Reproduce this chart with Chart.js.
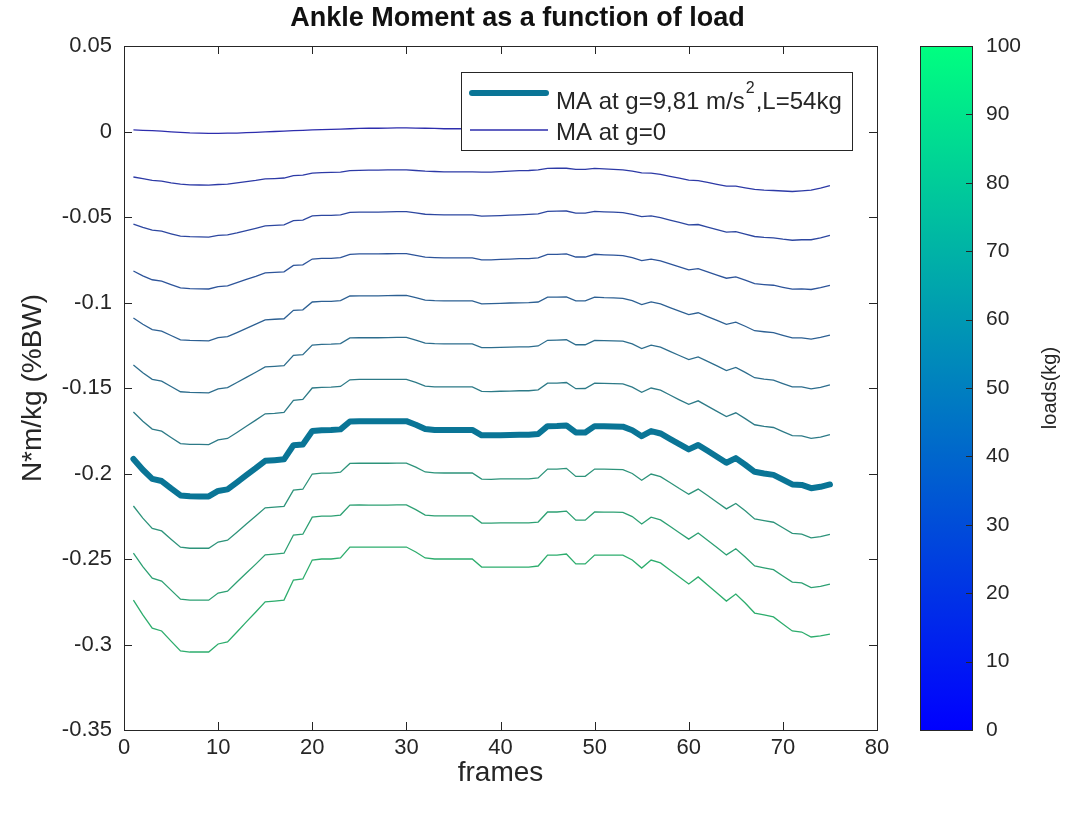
<!DOCTYPE html>
<html>
<head>
<meta charset="utf-8">
<title>Ankle Moment as a function of load</title>
<script src="https://cdn.jsdelivr.net/npm/chart.js@4.4.0/dist/chart.umd.min.js"></script>
<style>
  html, body { margin: 0; padding: 0; background: #fff; }
  canvas { display: block; }
</style>
</head>
<body>
<canvas id="chart" width="1069" height="816"></canvas>
<script>
// frame numbers (x axis)
const frames = [1,2,3,4,5,6,7,8,9,10,11,12,13,14,15,16,17,18,19,20,21,22,23,24,25,
  26,27,28,29,30,31,32,33,34,35,36,37,38,39,40,41,42,43,44,45,46,47,48,49,50,
  51,52,53,54,55,56,57,58,59,60,61,62,63,64,65,66,67,68,69,70,71,72,73,74,75];

// ankle moment, N*m/kg, one curve per load step (ma0 = no gravity)
const ma0 = [0.0009,0.0007,0.0005,0.0002,-0.0002,-0.0005,-0.0008,-0.0009,-0.0011,-0.0011,-0.0010,-0.0009,-0.0007,-0.0005,-0.0002,
  0.0000,0.0002,0.0005,0.0007,0.0009,0.0011,0.0012,0.0014,0.0016,0.0018,0.0019,0.0019,0.0020,0.0021,0.0021,
  0.0020,0.0019,0.0018,0.0016,0.0016,0.0016,0.0016,0.0018,0.0019,0.0022,0.0025,0.0028,0.0030,0.0033,0.0035,
  0.0036,0.0036,0.0036,0.0036,0.0035,0.0032,0.0029,0.0025,0.0021,0.0015,0.0009,0.0002,-0.0006,-0.0014,-0.0021,
  -0.0029,-0.0036,-0.0043,-0.0049,-0.0055,-0.0060,-0.0064,-0.0067,-0.0068,-0.0067,-0.0065,-0.0060,-0.0052,-0.0040,-0.0026];
const ma1 = [-0.0266,-0.0276,-0.0286,-0.0290,-0.0300,-0.0308,-0.0312,-0.0313,-0.0314,-0.0310,-0.0308,-0.0301,-0.0293,-0.0286,-0.0277,
  -0.0275,-0.0272,-0.0258,-0.0255,-0.0243,-0.0240,-0.0239,-0.0237,-0.0229,-0.0227,-0.0226,-0.0226,-0.0225,-0.0224,-0.0224,
  -0.0228,-0.0232,-0.0234,-0.0236,-0.0236,-0.0236,-0.0236,-0.0238,-0.0238,-0.0235,-0.0232,-0.0229,-0.0228,-0.0224,-0.0216,
  -0.0215,-0.0215,-0.0221,-0.0221,-0.0216,-0.0219,-0.0222,-0.0225,-0.0232,-0.0242,-0.0243,-0.0251,-0.0262,-0.0273,-0.0284,
  -0.0287,-0.0298,-0.0309,-0.0319,-0.0320,-0.0330,-0.0339,-0.0343,-0.0345,-0.0348,-0.0351,-0.0347,-0.0343,-0.0331,-0.0317];
const ma2 = [-0.0541,-0.0560,-0.0577,-0.0583,-0.0598,-0.0612,-0.0615,-0.0616,-0.0618,-0.0608,-0.0605,-0.0593,-0.0579,-0.0566,-0.0552,
  -0.0549,-0.0546,-0.0521,-0.0518,-0.0494,-0.0491,-0.0490,-0.0488,-0.0473,-0.0471,-0.0471,-0.0471,-0.0470,-0.0469,-0.0469,
  -0.0476,-0.0484,-0.0486,-0.0487,-0.0487,-0.0487,-0.0487,-0.0495,-0.0494,-0.0492,-0.0489,-0.0487,-0.0485,-0.0482,-0.0467,
  -0.0466,-0.0465,-0.0477,-0.0477,-0.0467,-0.0470,-0.0472,-0.0475,-0.0484,-0.0498,-0.0494,-0.0503,-0.0518,-0.0532,-0.0546,
  -0.0544,-0.0559,-0.0574,-0.0588,-0.0585,-0.0600,-0.0614,-0.0619,-0.0622,-0.0630,-0.0636,-0.0633,-0.0633,-0.0622,-0.0608];
const ma3 = [-0.0816,-0.0844,-0.0867,-0.0875,-0.0895,-0.0915,-0.0919,-0.0920,-0.0921,-0.0907,-0.0903,-0.0884,-0.0865,-0.0847,-0.0827,
  -0.0824,-0.0821,-0.0783,-0.0780,-0.0746,-0.0742,-0.0742,-0.0738,-0.0718,-0.0716,-0.0716,-0.0716,-0.0715,-0.0714,-0.0714,
  -0.0724,-0.0735,-0.0737,-0.0739,-0.0739,-0.0739,-0.0739,-0.0751,-0.0751,-0.0748,-0.0746,-0.0744,-0.0743,-0.0739,-0.0718,
  -0.0718,-0.0716,-0.0734,-0.0734,-0.0718,-0.0721,-0.0723,-0.0726,-0.0737,-0.0755,-0.0746,-0.0756,-0.0774,-0.0792,-0.0809,
  -0.0802,-0.0821,-0.0840,-0.0858,-0.0850,-0.0869,-0.0890,-0.0895,-0.0899,-0.0911,-0.0922,-0.0920,-0.0924,-0.0913,-0.0900];
const ma4 = [-0.1091,-0.1127,-0.1158,-0.1167,-0.1193,-0.1218,-0.1222,-0.1223,-0.1224,-0.1206,-0.1200,-0.1176,-0.1151,-0.1127,-0.1102,
  -0.1098,-0.1095,-0.1046,-0.1043,-0.0997,-0.0993,-0.0993,-0.0989,-0.0962,-0.0961,-0.0961,-0.0961,-0.0960,-0.0959,-0.0959,
  -0.0972,-0.0986,-0.0989,-0.0990,-0.0990,-0.0990,-0.0990,-0.1008,-0.1007,-0.1005,-0.1003,-0.1002,-0.1001,-0.0997,-0.0969,
  -0.0969,-0.0967,-0.0990,-0.0990,-0.0969,-0.0972,-0.0973,-0.0976,-0.0989,-0.1012,-0.0997,-0.1008,-0.1030,-0.1051,-0.1071,
  -0.1060,-0.1082,-0.1105,-0.1128,-0.1115,-0.1139,-0.1165,-0.1171,-0.1176,-0.1192,-0.1207,-0.1207,-0.1214,-0.1204,-0.1191];
const ma5 = [-0.1366,-0.1411,-0.1449,-0.1460,-0.1491,-0.1522,-0.1526,-0.1527,-0.1528,-0.1505,-0.1498,-0.1468,-0.1438,-0.1408,-0.1377,
  -0.1373,-0.1369,-0.1309,-0.1305,-0.1249,-0.1245,-0.1244,-0.1240,-0.1207,-0.1206,-0.1206,-0.1206,-0.1205,-0.1204,-0.1204,
  -0.1220,-0.1238,-0.1241,-0.1242,-0.1242,-0.1242,-0.1242,-0.1264,-0.1264,-0.1262,-0.1261,-0.1259,-0.1259,-0.1254,-0.1221,
  -0.1220,-0.1218,-0.1247,-0.1247,-0.1221,-0.1223,-0.1224,-0.1226,-0.1242,-0.1269,-0.1249,-0.1261,-0.1286,-0.1310,-0.1334,
  -0.1318,-0.1344,-0.1371,-0.1398,-0.1380,-0.1409,-0.1440,-0.1448,-0.1454,-0.1474,-0.1493,-0.1494,-0.1505,-0.1496,-0.1482];
const ma6 = [-0.1640,-0.1694,-0.1740,-0.1752,-0.1789,-0.1825,-0.1830,-0.1830,-0.1831,-0.1803,-0.1795,-0.1760,-0.1724,-0.1688,-0.1651,
  -0.1648,-0.1643,-0.1572,-0.1567,-0.1500,-0.1496,-0.1495,-0.1491,-0.1452,-0.1450,-0.1450,-0.1450,-0.1450,-0.1449,-0.1449,
  -0.1467,-0.1489,-0.1493,-0.1494,-0.1494,-0.1494,-0.1494,-0.1520,-0.1521,-0.1519,-0.1518,-0.1516,-0.1516,-0.1511,-0.1472,
  -0.1471,-0.1468,-0.1504,-0.1503,-0.1472,-0.1473,-0.1475,-0.1476,-0.1495,-0.1525,-0.1500,-0.1513,-0.1541,-0.1569,-0.1596,
  -0.1575,-0.1606,-0.1637,-0.1667,-0.1645,-0.1679,-0.1715,-0.1724,-0.1731,-0.1755,-0.1779,-0.1780,-0.1795,-0.1787,-0.1773];
const ma8 = [-0.2190,-0.2261,-0.2321,-0.2336,-0.2384,-0.2431,-0.2437,-0.2437,-0.2437,-0.2401,-0.2390,-0.2343,-0.2296,-0.2249,-0.2201,
  -0.2197,-0.2192,-0.2097,-0.2092,-0.2003,-0.1998,-0.1998,-0.1992,-0.1941,-0.1940,-0.1940,-0.1940,-0.1940,-0.1939,-0.1939,
  -0.1963,-0.1991,-0.1996,-0.1997,-0.1997,-0.1997,-0.1997,-0.2033,-0.2034,-0.2032,-0.2032,-0.2031,-0.2032,-0.2026,-0.1974,
  -0.1974,-0.1970,-0.2017,-0.2016,-0.1974,-0.1975,-0.1976,-0.1977,-0.2000,-0.2039,-0.2003,-0.2018,-0.2053,-0.2088,-0.2121,
  -0.2091,-0.2129,-0.2168,-0.2207,-0.2175,-0.2218,-0.2266,-0.2276,-0.2285,-0.2317,-0.2350,-0.2354,-0.2376,-0.2369,-0.2356];
const ma9 = [-0.2465,-0.2545,-0.2612,-0.2629,-0.2682,-0.2735,-0.2740,-0.2741,-0.2741,-0.2699,-0.2688,-0.2635,-0.2582,-0.2530,-0.2476,
  -0.2471,-0.2466,-0.2360,-0.2355,-0.2255,-0.2249,-0.2249,-0.2243,-0.2185,-0.2184,-0.2185,-0.2185,-0.2185,-0.2184,-0.2184,
  -0.2211,-0.2243,-0.2248,-0.2248,-0.2248,-0.2248,-0.2248,-0.2290,-0.2290,-0.2289,-0.2289,-0.2289,-0.2289,-0.2284,-0.2225,
  -0.2225,-0.2220,-0.2273,-0.2273,-0.2225,-0.2226,-0.2226,-0.2227,-0.2252,-0.2295,-0.2255,-0.2271,-0.2309,-0.2347,-0.2384,
  -0.2348,-0.2390,-0.2433,-0.2476,-0.2440,-0.2488,-0.2541,-0.2552,-0.2562,-0.2599,-0.2635,-0.2640,-0.2667,-0.2660,-0.2647];
const ma10 = [-0.2740,-0.2827,-0.2904,-0.2921,-0.2980,-0.3038,-0.3044,-0.3044,-0.3044,-0.2997,-0.2985,-0.2927,-0.2868,-0.2810,-0.2751,
  -0.2746,-0.2740,-0.2623,-0.2617,-0.2506,-0.2500,-0.2500,-0.2494,-0.2430,-0.2430,-0.2430,-0.2430,-0.2430,-0.2430,-0.2430,
  -0.2459,-0.2494,-0.2500,-0.2500,-0.2500,-0.2500,-0.2500,-0.2547,-0.2547,-0.2547,-0.2547,-0.2547,-0.2547,-0.2541,-0.2477,
  -0.2477,-0.2471,-0.2529,-0.2529,-0.2477,-0.2477,-0.2477,-0.2477,-0.2506,-0.2553,-0.2506,-0.2523,-0.2564,-0.2605,-0.2646,
  -0.2605,-0.2652,-0.2699,-0.2746,-0.2705,-0.2757,-0.2816,-0.2827,-0.2839,-0.2880,-0.2921,-0.2927,-0.2956,-0.2950,-0.2939];
// highlighted curve: g = 9.81 m/s^2, L = 54 kg
const maLoaded = [-0.1915,-0.1978,-0.2031,-0.2044,-0.2087,-0.2128,-0.2133,-0.2134,-0.2134,-0.2102,-0.2093,-0.2052,-0.2010,-0.1969,-0.1926,
  -0.1922,-0.1917,-0.1835,-0.1830,-0.1752,-0.1747,-0.1746,-0.1742,-0.1696,-0.1695,-0.1695,-0.1695,-0.1695,-0.1694,-0.1694,
  -0.1715,-0.1740,-0.1745,-0.1745,-0.1745,-0.1745,-0.1745,-0.1777,-0.1777,-0.1776,-0.1775,-0.1774,-0.1774,-0.1769,-0.1723,
  -0.1722,-0.1719,-0.1760,-0.1760,-0.1723,-0.1724,-0.1725,-0.1726,-0.1747,-0.1782,-0.1752,-0.1766,-0.1797,-0.1828,-0.1859,
  -0.1833,-0.1867,-0.1902,-0.1937,-0.1910,-0.1949,-0.1990,-0.2000,-0.2008,-0.2036,-0.2064,-0.2067,-0.2086,-0.2078,-0.2064];

const thinCurves = [ma0, ma1, ma2, ma3, ma4, ma5, ma6, ma8, ma9, ma10];
const thinLoads = [0, 10, 20, 30, 40, 50, 60, 80, 90, 100];

// axis and colorbar ticks
const xRange = [0, 80], xStep = 10;
const yRange = [-0.35, 0.05], yStep = 0.05;
const cbTicks = [0, 10, 20, 30, 40, 50, 60, 70, 80, 90, 100];

const FONT = '"Liberation Sans", Arial, Helvetica, sans-serif';
const INK = '#262626';
const TICK_LEN = 8;
const TITLE = 'Ankle Moment as a function of load';

// MATLAB "winter" colormap: blue -> spring green
function winter(t) {
  return [0, Math.round(255 * t), Math.round(255 * (1 - t / 2))];
}
function thinColor(load) {
  const c = winter(load / 100).map(v => Math.round(0.5 * v + 45));
  return `rgb(${c.join(',')})`;
}
function toPoints(values) {
  return values.map((v, i) => ({ x: frames[i], y: v }));
}

const datasets = [{
  label: 'MA at g=9,81 m/s^2,L=54kg',
  data: toPoints(maLoaded),
  borderColor: '#0a7596',
  borderWidth: 6,
  borderJoinStyle: 'round',
  borderCapStyle: 'round',
  pointRadius: 0,
  tension: 0
}];
thinCurves.forEach((curve, i) => {
  datasets.push({
    label: i === 0 ? 'MA at g=0' : 'L=' + thinLoads[i],
    data: toPoints(curve),
    borderColor: thinColor(thinLoads[i]),
    borderWidth: 1.3,
    pointRadius: 0,
    tension: 0
  });
});

const whiteBg = {
  id: 'whiteBg',
  beforeDraw(chart) {
    const { ctx, width, height } = chart;
    ctx.save();
    ctx.fillStyle = '#fff';
    ctx.fillRect(0, 0, width, height);
    ctx.restore();
  }
};

// axes box with inward ticks on all four sides, plus the title
const boxTicks = {
  id: 'boxTicks',
  afterDatasetsDraw(chart) {
    const { ctx, chartArea: a, scales: { x, y } } = chart;
    ctx.save();
    ctx.strokeStyle = INK;
    ctx.lineWidth = 1;
    ctx.beginPath();
    x.ticks.forEach(t => {
      const px = Math.round(x.getPixelForValue(t.value)) + 0.5;
      ctx.moveTo(px, a.bottom); ctx.lineTo(px, a.bottom - TICK_LEN);
      ctx.moveTo(px, a.top); ctx.lineTo(px, a.top + TICK_LEN);
    });
    y.ticks.forEach(t => {
      const py = Math.round(y.getPixelForValue(t.value)) + 0.5;
      ctx.moveTo(a.left, py); ctx.lineTo(a.left + TICK_LEN, py);
      ctx.moveTo(a.right, py); ctx.lineTo(a.right - TICK_LEN, py);
    });
    ctx.stroke();
    ctx.strokeRect(Math.round(a.left) + 0.5, Math.round(a.top) + 0.5,
      Math.round(a.right - a.left), Math.round(a.bottom - a.top));

    ctx.fillStyle = '#111';
    ctx.font = 'bold 27px ' + FONT;
    ctx.textAlign = 'center';
    ctx.textBaseline = 'middle';
    ctx.fillText(TITLE, (a.left + a.right) / 2 + 17, a.top - 27);
    ctx.restore();
  }
};

// boxed legend in the upper right of the axes
const maLegend = {
  id: 'maLegend',
  afterDatasetsDraw(chart) {
    const { ctx, chartArea: a } = chart;
    const w = 391, h = 78;
    const x0 = Math.round(a.right - 25 - w), y0 = Math.round(a.top + 26);
    const thick = chart.data.datasets[0], thin = chart.data.datasets[1];
    ctx.save();
    ctx.fillStyle = '#fff';
    ctx.fillRect(x0, y0, w, h);
    ctx.strokeStyle = INK;
    ctx.lineWidth = 1;
    ctx.strokeRect(x0 + 0.5, y0 + 0.5, w, h);

    ctx.lineCap = 'round';
    ctx.strokeStyle = thick.borderColor;
    ctx.lineWidth = thick.borderWidth;
    ctx.beginPath(); ctx.moveTo(x0 + 11, y0 + 21); ctx.lineTo(x0 + 85, y0 + 21); ctx.stroke();
    ctx.lineCap = 'butt';
    ctx.strokeStyle = thin.borderColor;
    ctx.lineWidth = thin.borderWidth;
    ctx.beginPath(); ctx.moveTo(x0 + 9, y0 + 58); ctx.lineTo(x0 + 87, y0 + 58); ctx.stroke();

    ctx.fillStyle = INK;
    ctx.textBaseline = 'alphabetic';
    ctx.textAlign = 'left';
    const tx = x0 + 95;
    const main = '24px ' + FONT, sup = '16px ' + FONT;
    ctx.font = main;
    const part1 = 'MA at g=9,81 m/s';
    ctx.fillText(part1, tx, y0 + 37);
    let cx = tx + ctx.measureText(part1).width + 1;
    ctx.font = sup;
    ctx.fillText('2', cx, y0 + 21);
    cx += ctx.measureText('2').width + 1;
    ctx.font = main;
    ctx.fillText(',L=54kg', cx, y0 + 37);
    ctx.fillText(thin.label, tx, y0 + 68);
    ctx.restore();
  }
};

// colorbar for the load scale
const loadColorbar = {
  id: 'loadColorbar',
  afterDraw(chart) {
    const { ctx, chartArea: a } = chart;
    const left = Math.round(a.right) + 43, right = Math.round(a.right) + 95;
    const top = Math.round(a.top), bottom = Math.round(a.bottom);
    const lo = cbTicks[0], hi = cbTicks[cbTicks.length - 1];
    const yOf = v => bottom - (v - lo) / (hi - lo) * (bottom - top);
    ctx.save();
    const grad = ctx.createLinearGradient(0, bottom, 0, top);
    grad.addColorStop(0, `rgb(${winter(0).join(',')})`);
    grad.addColorStop(1, `rgb(${winter(1).join(',')})`);
    ctx.fillStyle = grad;
    ctx.fillRect(left, top, right - left, bottom - top);
    ctx.strokeStyle = INK;
    ctx.lineWidth = 1;
    ctx.strokeRect(left + 0.5, top + 0.5, right - left, bottom - top);
    ctx.beginPath();
    cbTicks.forEach(v => {
      const py = Math.round(yOf(v)) + 0.5;
      ctx.moveTo(right, py); ctx.lineTo(right - 6, py);
    });
    ctx.stroke();
    ctx.fillStyle = INK;
    ctx.font = '21px ' + FONT;
    ctx.textAlign = 'left';
    ctx.textBaseline = 'middle';
    cbTicks.forEach(v => ctx.fillText(String(v), right + 14, yOf(v)));
    ctx.translate(right + 78, (top + bottom) / 2);
    ctx.rotate(-Math.PI / 2);
    ctx.textAlign = 'center';
    ctx.font = '20px ' + FONT;
    ctx.fillText('loads(kg)', 0, 0);
    ctx.restore();
  }
};

new Chart(document.getElementById('chart').getContext('2d'), {
  type: 'line',
  data: { datasets },
  options: {
    responsive: false,
    animation: false,
    devicePixelRatio: 1,
    layout: { padding: { left: 0, right: 192, top: 46, bottom: 0 } },
    plugins: {
      legend: { display: false },
      tooltip: { enabled: false },
      title: { display: false }
    },
    scales: {
      x: {
        type: 'linear',
        min: xRange[0],
        max: xRange[1],
        grid: { display: false, drawTicks: false },
        border: { display: false },
        ticks: { stepSize: xStep, padding: 5, color: INK, font: { family: FONT, size: 22 }, maxRotation: 0 },
        title: { display: true, text: 'frames', color: INK, font: { family: FONT, size: 28 }, padding: { top: 0, bottom: 26 } },
        afterFit(scale) { scale.height = 86; }
      },
      y: {
        type: 'linear',
        min: yRange[0],
        max: yRange[1],
        grid: { display: false, drawTicks: false },
        border: { display: false },
        ticks: {
          stepSize: yStep,
          padding: 12,
          color: INK,
          font: { family: FONT, size: 22 },
          callback: v => String(Math.round(v * 100) / 100)
        },
        title: { display: true, text: 'N*m/kg (%BW)', color: INK, font: { family: FONT, size: 28 }, padding: { top: 16, bottom: 0 } },
        afterFit(scale) { scale.width = 124; }
      }
    }
  },
  plugins: [whiteBg, boxTicks, maLegend, loadColorbar]
});
</script>
</body>
</html>
